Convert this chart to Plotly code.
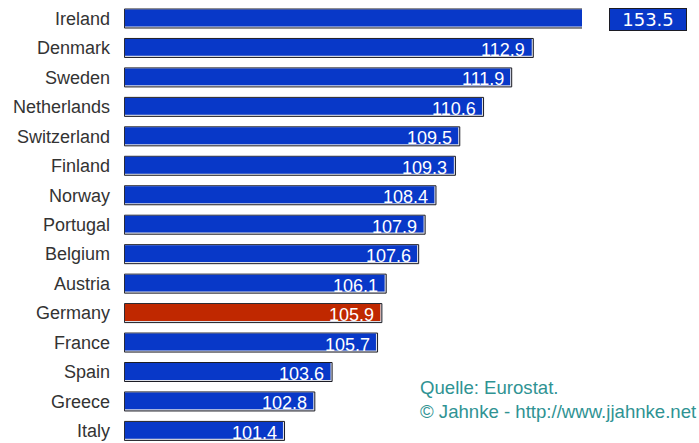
import plotly.graph_objects as go

# GDP index values by country (top to bottom)
countries = ["Ireland", "Denmark", "Sweden", "Netherlands", "Switzerland", "Finland",
             "Norway", "Portugal", "Belgium", "Austria", "Germany", "France",
             "Spain", "Greece", "Italy"]
values = [153.5, 112.9, 111.9, 110.6, 109.5, 109.3, 108.4, 107.9, 107.6,
          106.1, 105.9, 105.7, 103.6, 102.8, 101.4]
highlight = "Germany"
source_lines = ["Quelle: Eurostat.", "© Jahnke - http://www.jjahnke.net"]

W, H = 699, 443
BASE = 94.0
XMIN, XMAX = 93.98, 115.15
YMIN, YMAX = -0.628, 14.41
ML, MR = 124, 117
PW = W - ML - MR
PX_X = PW / (XMAX - XMIN)
PX_Y = H / (YMAX - YMIN)

BLUE = "#0838c8"
RED = "#c02800"
EDGE = "#1c1c24"
SHINE = "#dcdfe8"
BW = 0.645

colors = [RED if c == highlight else BLUE for c in countries]

fig = go.Figure()

# outlined frame of each bar; its light fill shows as a thin bevel at bottom/right
fig.add_trace(go.Bar(
    y=countries, x=[v - BASE for v in values], base=BASE, orientation="h",
    width=BW, marker=dict(color=SHINE, line=dict(color=EDGE, width=1)),
    hoverinfo="skip", showlegend=False,
))

# coloured face, inset from the bottom and right edges
ins_top, ins_bot = 0.5 / PX_Y, 1.6 / PX_Y
ins_left, ins_right = 0.5 / PX_X, 1.6 / PX_X
fig.add_trace(go.Bar(
    y=countries, x=[v - BASE - ins_left - ins_right for v in values],
    base=BASE + ins_left, orientation="h",
    width=BW - ins_top - ins_bot, offset=-BW / 2 + ins_top,
    marker=dict(color=colors, line=dict(width=0)),
    hoverinfo="skip", showlegend=False,
))

annotations = []
# value labels inside the bars that fit on the axis
for c, v in zip(countries, values):
    if v <= XMAX:
        annotations.append(dict(
            x=v, y=c, xref="x", yref="y", text=f"{v:.1f}", showarrow=False,
            xanchor="right", yanchor="middle", xshift=-6, yshift=-2,
            font=dict(family="Liberation Sans, Arial", size=18, color="white"),
        ))

# values beyond the axis get a boxed label right of the plot
for i, (c, v) in enumerate(zip(countries, values)):
    if v > XMAX:
        annotations.append(dict(
            x=(648 - ML) / PW, y=c, xref="paper", yref="y", text=f"{v:.1f}",
            showarrow=False, xanchor="center", yanchor="middle", yshift=-1,
            width=76, align="center", bgcolor=BLUE, bordercolor=EDGE,
            borderwidth=1, borderpad=0,
            font=dict(family="DejaVu Sans", size=18, color="white"),
        ))

annotations.append(dict(
    x=(418 - ML) / PW, y=1 - 399.5 / H, xref="paper", yref="paper",
    text="<br>".join(source_lines), showarrow=False, xanchor="left",
    yanchor="middle", align="left",
    font=dict(family="Liberation Sans, Arial", size=18.6, color="#2f9393"),
))

fig.update_layout(
    width=W, height=H, barmode="overlay",
    margin=dict(l=ML, r=MR, t=0, b=0, pad=0),
    paper_bgcolor="white", plot_bgcolor="white",
    xaxis=dict(range=[XMIN, XMAX], visible=False, fixedrange=True),
    yaxis=dict(
        categoryorder="array", categoryarray=countries,
        range=[YMAX, YMIN], showgrid=False, zeroline=False, showline=False,
        ticks="", ticklabelstandoff=13,
        tickfont=dict(family="Liberation Sans, Arial", size=18, color="#333333"),
        fixedrange=True,
    ),
    annotations=annotations,
    showlegend=False,
)

fig.write_html("out.html")
